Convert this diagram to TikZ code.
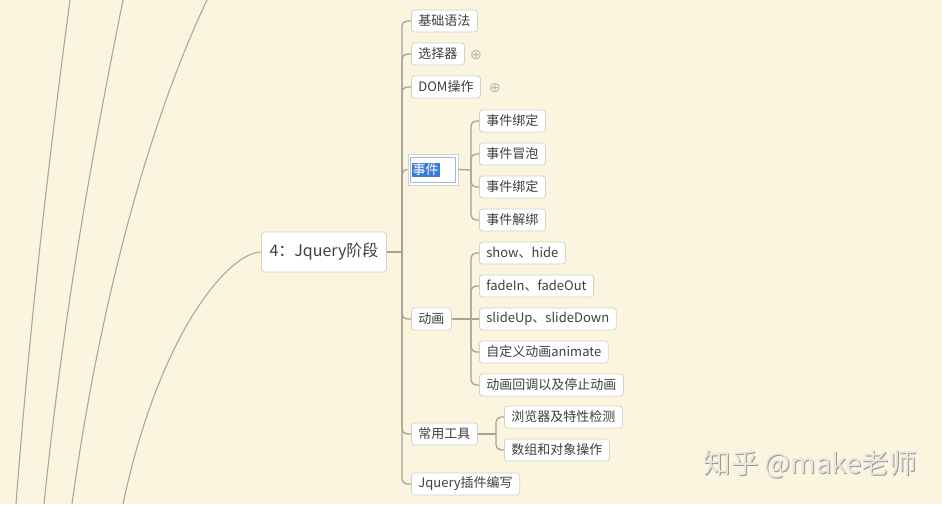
\documentclass[tikz,border=0pt]{standalone}
\usepackage{fontspec}
\setmainfont{Noto Sans CJK SC}
\newfontfamily\symfont{DejaVu Sans}
\definecolor{bgc}{HTML}{FBF4DF}
\definecolor{linec}{HTML}{A9A293}
\definecolor{curvec}{HTML}{ABA79E}
\definecolor{boxc}{HTML}{D6D1C6}
\definecolor{txtc}{HTML}{3F3F3F}
\definecolor{selc}{HTML}{3B7BD6}
\definecolor{selb}{HTML}{9DB8D8}
\definecolor{wmc}{HTML}{E9E6E0}
\tikzset{
  topic/.style={draw=boxc, fill=white, rounded corners=3pt, line width=0.8pt,
    minimum height=22pt, inner xsep=7pt, inner ysep=0pt, anchor=west,
    text=txtc, font=\fontsize{13}{15}\selectfont},
  roottopic/.style={draw=boxc, fill=white, rounded corners=3pt, line width=0.8pt,
    minimum height=40pt, minimum width=120pt, inner xsep=8pt, text=txtc,
    font=\fontsize{16}{18}\selectfont},
  conn/.style={draw=linec, line width=1.3pt, rounded corners=5pt},
  curve/.style={draw=curvec, line width=1.1pt},
  plus/.style={text=linec!80, font=\symfont\fontsize{14}{14}\selectfont, inner sep=0pt}
}
\begin{document}
\begin{tikzpicture}[x=1pt,y=-1pt]
\fill[bgc] (0,0) rectangle (942,504);
\useasboundingbox (0,0) rectangle (942,504);

% left curves from off-screen parents
\coordinate (a0) at (70,0);   \coordinate (a1) at (16,504);
\coordinate (b0) at (123,0);  \coordinate (b1) at (44,504);
\coordinate (c0) at (207,0);  \coordinate (c1) at (72,504);
\coordinate (d1) at (123,504);
\draw[curve] (a0) .. controls (50,150) and (30,320) .. (a1);
\draw[curve] (b0) .. controls (95,140) and (65,300) .. (b1);
\draw[curve] (c0) .. controls (150,120) and (100,300) .. (c1);

% root
\node[roottopic] (root) at (324,252) {4：Jquery阶段};
\draw[curve] (root.west) .. controls (230,252) and (160,330) .. (d1);

% level 1
\node[topic] (n1) at (411,21) {基础语法};
\node[topic] (n2) at (411,54) {选择器};
\node[topic] (n3) at (411,87) {DOM操作};
\node[draw=boxc, fill=white, line width=0.8pt, minimum width=50pt, minimum height=31pt, anchor=west, inner sep=0pt] (n4) at (407.5,169.5) {};
\node[draw=selb, line width=1pt, minimum width=45pt, minimum height=25pt, inner sep=0pt] (n4b) at (n4.center) {};
\node[fill=selc, text=white, inner xsep=1pt, inner ysep=1pt, anchor=west, font=\fontsize{13}{15}\selectfont] (n4t) at (411.5,169.5) {事件};
\node[topic] (n5) at (411,319) {动画};
\node[topic] (n6) at (411,434) {常用工具};
\node[topic] (n7) at (411,484) {Jquery插件编写};

\node[plus] (p2) at (476,55) {⊕};
\node[plus] (p3) at (495,88) {⊕};

\coordinate (j0) at (402,252);
\draw[conn] (root.east) -- (j0);
\foreach \n in {n1,n2,n3,n5,n6,n7} { \draw[conn] (j0) |- (\n.west); }
\draw[conn] (j0) |- (n4.west);

% events
\node[topic] (e1) at (479,121) {事件绑定};
\node[topic] (e2) at (479,154) {事件冒泡};
\node[topic] (e3) at (479,187) {事件绑定};
\node[topic] (e4) at (479,220) {事件解绑};
\coordinate (j1) at (471,170);
\draw[conn] (n4.east) -- (j1);
\foreach \n in {e1,e2,e3,e4} { \draw[conn] (j1) |- (\n.west); }

% animation
\node[topic] (a1n) at (479,253) {show、hide};
\node[topic] (a2n) at (479,286) {fadeIn、fadeOut};
\node[topic] (a3n) at (479,319) {slideUp、slideDown};
\node[topic] (a4n) at (479,352) {自定义动画animate};
\node[topic] (a5n) at (479,385) {动画回调以及停止动画};
\coordinate (j2) at (471,319);
\draw[conn] (n5.east) -- (j2);
\foreach \n in {a1n,a2n,a4n,a5n} { \draw[conn] (j2) |- (\n.west); }
\draw[conn] (j2) -- (a3n.west);

% tools
\node[topic] (t1) at (504,417) {浏览器及特性检测};
\node[topic] (t2) at (504,450) {数组和对象操作};
\coordinate (j3) at (496,434);
\draw[conn] (n6.east) -- (j3);
\foreach \n in {t1,t2} { \draw[conn] (j3) |- (\n.west); }

% watermark
\node[text=gray!80, font=\fontsize{27.5}{29}\selectfont, inner sep=0pt] (wms) at (811.2,465.2) {知乎 @make老师};
\node[text=wmc, font=\fontsize{27.5}{29}\selectfont, inner sep=0pt] (wm) at (810,464) {知乎 @make老师};
\end{tikzpicture}
\end{document}
